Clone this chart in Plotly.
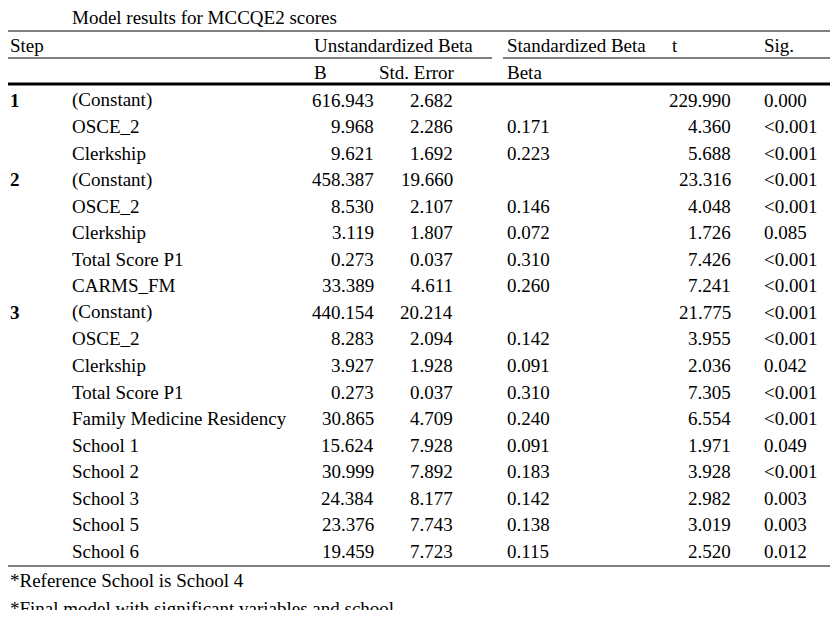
import plotly.graph_objs as go

# table contents
steps = ["1", "", "", "2", "", "", "", "", "3", "", "", "", "", "", "", "", "", ""]
variables = ["(Constant)", "OSCE_2", "Clerkship",
             "(Constant)", "OSCE_2", "Clerkship", "Total Score P1", "CARMS_FM",
             "(Constant)", "OSCE_2", "Clerkship", "Total Score P1",
             "Family Medicine Residency", "School 1", "School 2", "School 3",
             "School 5", "School 6"]
b_values = ["616.943", "9.968", "9.621", "458.387", "8.530", "3.119", "0.273", "33.389",
            "440.154", "8.283", "3.927", "0.273", "30.865", "15.624", "30.999", "24.384",
            "23.376", "19.459"]
std_errors = ["2.682", "2.286", "1.692", "19.660", "2.107", "1.807", "0.037", "4.611",
              "20.214", "2.094", "1.928", "0.037", "4.709", "7.928", "7.892", "8.177",
              "7.743", "7.723"]
betas = ["", "0.171", "0.223", "", "0.146", "0.072", "0.310", "0.260",
         "", "0.142", "0.091", "0.310", "0.240", "0.091", "0.183", "0.142",
         "0.138", "0.115"]
t_values = ["229.990", "4.360", "5.688", "23.316", "4.048", "1.726", "7.426", "7.241",
            "21.775", "3.955", "2.036", "7.305", "6.554", "1.971", "3.928", "2.982",
            "3.019", "2.520"]
sig_values = ["0.000", "<0.001", "<0.001", "<0.001", "<0.001", "0.085", "<0.001", "<0.001",
              "<0.001", "<0.001", "0.042", "<0.001", "<0.001", "0.049", "<0.001", "0.003",
              "0.003", "0.012"]
footnotes = ["*Reference School is School 4", "*Final model with significant variables and school"]

SERIF = "Liberation Serif"
FS = 19
fig = go.Figure()
ann = []


def txt(x, y, s, anchor="left", bold=False, font=SERIF, size=FS):
    if bold:
        s = "<b>" + s + "</b>"
    ann.append(dict(x=x, y=y, text=s, showarrow=False, xanchor=anchor, yanchor="middle",
                    font=dict(family=font, size=size, color="black")))


txt(6, 16, "<b>Table 5</b>", font="Noto Sans", size=16)
txt(70, 17, "Model results for MCCQE2 scores")

# header
txt(8, 45, "Step")
txt(312, 45, "Unstandardized Beta")
txt(505, 45, "Standardized Beta")
txt(670, 45, "t")
txt(762, 45, "Sig.")
txt(312, 72, "B")
txt(377, 72, "Std. Error")
txt(505, 72, "Beta")

row_y0, row_h = 100, 26.55
for i in range(len(variables)):
    y = row_y0 + i * row_h
    if steps[i]:
        txt(8, y, steps[i], bold=True)
    txt(70, y, variables[i])
    txt(376, y, b_values[i], anchor="right")
    txt(455, y, std_errors[i], anchor="right")
    txt(505, y, betas[i])
    txt(733, y, t_values[i], anchor="right")
    txt(762, y, sig_values[i].replace("<", "&lt;"))

for j, note in enumerate(footnotes):
    txt(8, 580 + j * 28, note)

shapes = []


def hline(x0, x1, y, w=1):
    shapes.append(dict(type="line", x0=x0, x1=x1, y0=y, y1=y,
                       line=dict(color="black", width=w)))


hline(8, 830, 31)
hline(8, 492, 58)
hline(503, 830, 58)
hline(8, 830, 84, 3)
hline(8, 830, 566)

# page has an 8px body margin, so map data units 1:1 onto page pixels
fig.update_layout(
    width=822, height=602, margin=dict(l=0, r=0, t=0, b=0),
    paper_bgcolor="white", plot_bgcolor="white",
    xaxis=dict(range=[8, 830], visible=False, fixedrange=True),
    yaxis=dict(range=[610, 8], visible=False, fixedrange=True),
    annotations=ann, shapes=shapes, showlegend=False,
)
fig.write_html("out.html")
